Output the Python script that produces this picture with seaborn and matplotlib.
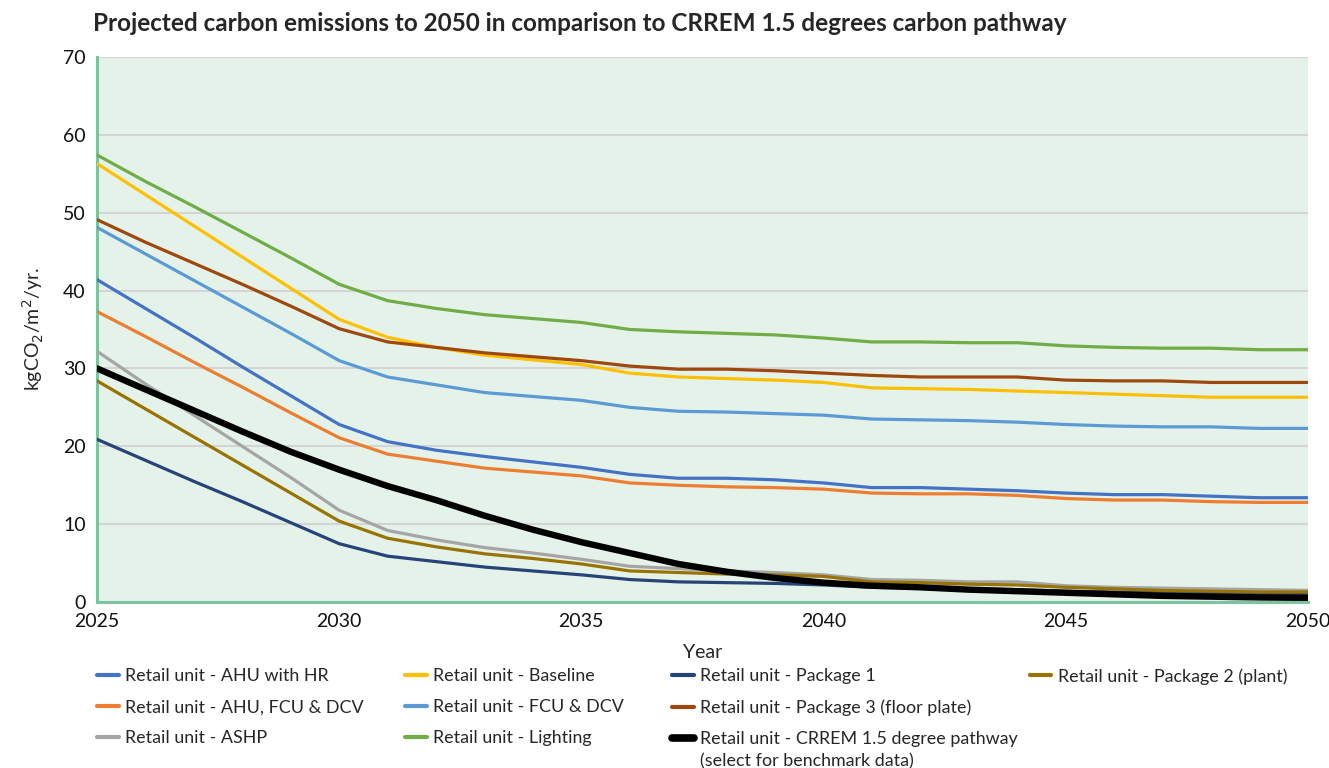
import matplotlib
matplotlib.use("Agg")
import matplotlib.pyplot as plt
import seaborn as sns
import pandas as pd
import numpy as np
from matplotlib.lines import Line2D

years = list(range(2025, 2051))

ahu_hr = [41.4, 37.7, 34.0, 30.2, 26.5, 22.8, 20.6, 19.5, 18.7, 18.0, 17.3, 16.4, 15.9, 15.9, 15.7, 15.3,
          14.7, 14.7, 14.5, 14.3, 14.0, 13.8, 13.8, 13.6, 13.4, 13.4]
ahu_fcu_dcv = [37.3, 34.1, 30.8, 27.6, 24.3, 21.1, 19.0, 18.1, 17.2, 16.7, 16.2, 15.3, 15.0, 14.8, 14.7, 14.5,
               14.0, 13.9, 13.9, 13.7, 13.3, 13.1, 13.1, 12.9, 12.8, 12.8]
ashp = [32.2, 28.0, 24.0, 20.0, 16.0, 11.8, 9.2, 8.0, 7.0, 6.3, 5.5, 4.6, 4.3, 4.0, 3.8, 3.5,
        2.9, 2.8, 2.6, 2.6, 2.1, 1.9, 1.8, 1.7, 1.6, 1.5]
baseline = [56.3, 52.3, 48.3, 44.3, 40.3, 36.3, 34.0, 32.7, 31.7, 31.1, 30.5, 29.4, 28.9, 28.7, 28.5, 28.2,
            27.5, 27.4, 27.3, 27.1, 26.9, 26.7, 26.5, 26.3, 26.3, 26.3]
fcu_dcv = [48.1, 44.7, 41.3, 37.9, 34.5, 31.0, 28.9, 27.9, 26.9, 26.4, 25.9, 25.0, 24.5, 24.4, 24.2, 24.0,
           23.5, 23.4, 23.3, 23.1, 22.8, 22.6, 22.5, 22.5, 22.3, 22.3]
lighting = [57.4, 54.0, 50.8, 47.5, 44.2, 40.8, 38.7, 37.7, 36.9, 36.4, 35.9, 35.0, 34.7, 34.5, 34.3, 33.9,
            33.4, 33.4, 33.3, 33.3, 32.9, 32.7, 32.6, 32.6, 32.4, 32.4]
package1 = [20.9, 18.2, 15.5, 12.9, 10.2, 7.5, 5.9, 5.2, 4.5, 4.0, 3.5, 2.9, 2.6, 2.5, 2.4, 2.2,
            1.9, 1.8, 1.7, 1.6, 1.4, 1.3, 1.2, 1.1, 1.0, 1.0]
package2 = [28.4, 24.8, 21.2, 17.6, 14.0, 10.4, 8.2, 7.1, 6.2, 5.6, 4.9, 4.0, 3.8, 3.6, 3.5, 3.3,
            2.6, 2.5, 2.3, 2.2, 1.9, 1.7, 1.5, 1.4, 1.3, 1.3]
package3 = [49.1, 46.2, 43.5, 40.8, 38.0, 35.1, 33.4, 32.7, 32.0, 31.5, 31.0, 30.3, 29.9, 29.9, 29.7, 29.4,
            29.1, 28.9, 28.9, 28.9, 28.5, 28.4, 28.4, 28.2, 28.2, 28.2]
crrem = [30.0, 27.3, 24.6, 21.9, 19.3, 17.0, 14.9, 13.1, 11.1, 9.3, 7.7, 6.3, 4.9, 3.9, 3.1, 2.5,
         2.1, 1.9, 1.6, 1.4, 1.2, 1.0, 0.8, 0.7, 0.6, 0.55]

series_names = [
    "Retail unit - AHU with HR",
    "Retail unit - AHU, FCU & DCV",
    "Retail unit - ASHP",
    "Retail unit - Baseline",
    "Retail unit - FCU & DCV",
    "Retail unit - Lighting",
    "Retail unit - Package 1",
    "Retail unit - Package 2 (plant)",
    "Retail unit - Package 3 (floor plate)",
    "Retail unit - CRREM 1.5 degree pathway",
]
crrem_note = "(select for benchmark data)"
series_values = [ahu_hr, ahu_fcu_dcv, ashp, baseline, fcu_dcv, lighting,
                 package1, package2, package3, crrem]
colors = ["#4472C4", "#ED7D31", "#A5A5A5", "#FFC000", "#5B9BD5", "#70AD47",
          "#264478", "#997300", "#9E480E", "#000000"]
widths = [2.3] * 9 + [4.6]

df = pd.DataFrame({
    "Year": np.tile(years, len(series_names)),
    "Value": np.concatenate(series_values),
    "Series": np.repeat(series_names, len(years)),
})

sns.set_theme(style="white")
plt.rcParams["font.family"] = ["Lato", "DejaVu Sans"]

fig = plt.figure(figsize=(13.29, 7.68), dpi=100)
ax = fig.add_axes([0.073, 0.216, 0.911, 0.710])
ax.set_facecolor("#E5F2E9")

draw_order = [8, 3, 5, 4, 0, 1, 2, 7, 6, 9]
for i in draw_order:
    sub = df[df["Series"] == series_names[i]]
    sns.lineplot(data=sub, x="Year", y="Value", ax=ax, color=colors[i],
                 linewidth=widths[i], legend=False, zorder=3 + i)

ax.set_xlim(2025, 2050)
ax.set_ylim(0, 70)
ax.set_xticks(range(2025, 2051, 5))
ax.set_yticks(range(0, 71, 10))
ax.grid(axis="y", color="#D4D4D4", linewidth=1.5, zorder=1)
ax.grid(axis="x", visible=False)
ax.set_axisbelow(True)
for s in ["top", "right"]:
    ax.spines[s].set_visible(False)
for s in ["left", "bottom"]:
    ax.spines[s].set_color("#7CC4A0")
    ax.spines[s].set_linewidth(2.2)
ax.tick_params(axis="both", length=0, labelsize=14, colors="#111111", pad=8)
ax.set_xlabel("Year", fontsize=14, labelpad=10)
ax.set_ylabel("kgCO$_2$/m$^2$/yr.", fontsize=14, labelpad=12)

fig.text(0.070, 0.970, "Projected carbon emissions to 2050 in comparison to CRREM 1.5 degrees carbon pathway",
         fontsize=17.5, fontweight="bold", ha="left", va="center")

# legend in 4 columns (column-major, as in the reference)
columns = [[0, 1, 2], [3, 4, 5], [6, 8, 9], [7]]
col_x = [0.073, 0.305, 0.506, 0.775]
for cx, idxs in zip(col_x, columns):
    handles = [Line2D([0], [0], color=colors[i], linewidth=(3.0 if i != 9 else 5.5),
                      solid_capstyle="round") for i in idxs]
    labels = [series_names[i] for i in idxs]
    fig.legend(handles, labels, loc="upper left", bbox_to_anchor=(cx, 0.130),
               frameon=False, fontsize=12.9, handlelength=1.2, handletextpad=0.36,
               labelspacing=0.84, borderaxespad=0, borderpad=0)

fig.text(0.5265, 0.009, crrem_note, fontsize=12.9, ha="left", va="center")

fig.savefig("out.png", dpi=100)
